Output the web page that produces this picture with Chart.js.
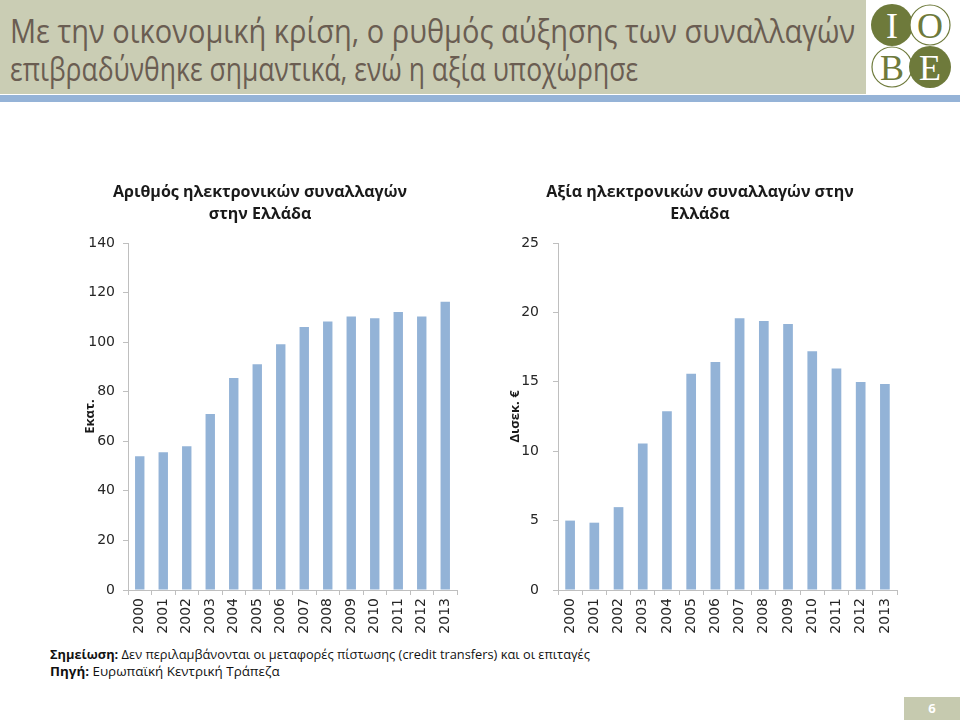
<!DOCTYPE html>
<html>
<head>
<meta charset="utf-8">
<script src="https://cdn.jsdelivr.net/npm/chart.js@4.4.1/dist/chart.umd.min.js"></script>
<style>
  body { margin: 0; width: 960px; height: 720px; position: relative; background: #fff; overflow: hidden; font-family: 'Open Sans', sans-serif; }
  .header { position: absolute; left: 0; top: 0; width: 866px; height: 94px; background: #cacdb4; }
  .band { position: absolute; left: 0; top: 95px; width: 960px; height: 7px; background: #95b3d7; }
  .htext { position: absolute; left: 10px; color: #6a5d52; font-size: 32px; white-space: nowrap; transform-origin: left center; display: inline-block; }
  .note { position: absolute; left: 50px; font-size: 12px; color: #111; white-space: nowrap; transform-origin: left center; display: inline-block; }
  .page { position: absolute; left: 904px; top: 697px; width: 56px; height: 23px; background: #c6caaf; color: #fff; font-weight: bold; font-size: 13px; text-align: center; line-height: 23px; }
  canvas { position: absolute; }
</style>
</head>
<body>
<div class="header"></div>
<div class="band"></div>
<div class="htext" id="h1" style="top:9px">Με την οικονομική κρίση, ο ρυθμός αύξησης των συναλλαγών</div>
<div class="htext" id="h2" style="top:47px">επιβραδύνθηκε σημαντικά, ενώ η αξία υποχώρησε</div>

<svg style="position:absolute;left:866px;top:0" width="94" height="94">
  <g font-family="Liberation Serif, DejaVu Serif, serif" font-size="36" text-anchor="middle">
    <circle cx="26" cy="25" r="21" fill="#6e7a3b"/>
    <text x="26" y="38" fill="#fff">I</text>
    <circle cx="64" cy="25" r="20" fill="#fff" stroke="#6e7a3b" stroke-width="1.2"/>
    <text x="64" y="38" fill="#6e7a3b">O</text>
    <circle cx="26" cy="67" r="20" fill="#fff" stroke="#6e7a3b" stroke-width="1.2"/>
    <text x="26" y="80" fill="#6e7a3b">B</text>
    <circle cx="64" cy="67" r="21" fill="#6e7a3b"/>
    <text x="64" y="80" fill="#fff">E</text>
  </g>
</svg>

<canvas id="countChart" width="420" height="475" style="left:50px;top:170px"></canvas>
<canvas id="valueChart" width="420" height="475" style="left:490px;top:170px"></canvas>

<div class="note" id="n1" style="top:646px"><b>Σημείωση:</b> Δεν περιλαμβάνονται οι μεταφορές πίστωσης (credit transfers) και οι επιταγές</div>
<div class="note" id="n2" style="top:663px"><b>Πηγή:</b> Ευρωπαϊκή Κεντρική Τράπεζα</div>
<div class="page">6</div>

<script>
'use strict';
const years = ['2000', '2001', '2002', '2003', '2004', '2005', '2006', '2007', '2008', '2009', '2010', '2011', '2012', '2013'];
// number of transactions, millions
const countValues = [54, 55.6, 58, 71, 85.5, 91.1, 99.2, 106.1, 108.3, 110.3, 109.6, 112.2, 110.3, 116.3];
// value of transactions, billion euro
const valueValues = [5.0, 4.85, 5.97, 10.56, 12.88, 15.58, 16.42, 19.57, 19.38, 19.17, 17.2, 15.96, 14.98, 14.84];
const countTicks = [0, 20, 40, 60, 80, 100, 120, 140];
const valueTicks = [0, 5, 10, 15, 20, 25];

const barColor = '#93b3d7';
const axisColor = '#bfbfbf';
const tickFont = { family: 'DejaVu Sans', size: 14 };

const fitText = function(id, width){
  const el = document.getElementById(id);
  el.style.transform = `scaleX(${width / el.scrollWidth})`;
};
fitText('h1', 845);
fitText('h2', 628);
fitText('n1', 540);
fitText('n2', 230);

const makeChart = function(canvasId, title, yTitle, values, ticks, opts){
  return new Chart(document.getElementById(canvasId), {
    type: 'bar',
    data: {
      labels: years,
      datasets: [{
        data: values,
        backgroundColor: barColor,
        barPercentage: 1,
        categoryPercentage: 0.4
      }]
    },
    options: {
      responsive: false,
      animation: false,
      layout: { padding: { left: 13, right: 13, bottom: 5 } },
      plugins: {
        legend: { display: false },
        tooltip: { enabled: false },
        title: {
          display: true,
          text: title,
          color: '#1a1a1a',
          font: { family: 'Open Sans', size: 16, weight: 'bold', lineHeight: 22 / 16 },
          padding: { top: 11, bottom: 18 }
        }
      },
      scales: {
        x: {
          grid: { display: true, drawOnChartArea: false, drawTicks: true, tickLength: 5, color: axisColor, offset: true },
          border: { color: axisColor },
          ticks: { color: '#262626', font: tickFont, minRotation: 90, maxRotation: 90, padding: 3 },
          afterFit: function(scale){ scale.height = 50; }
        },
        y: {
          min: ticks[0],
          max: ticks[ticks.length - 1],
          afterBuildTicks: function(scale){ scale.ticks = ticks.map(v => ({ value: v })); },
          grid: { display: true, drawOnChartArea: false, drawTicks: true, tickLength: 5, color: axisColor },
          border: { color: axisColor },
          ticks: { color: '#262626', font: tickFont, padding: opts.tickPad },
          title: {
            display: true,
            text: yTitle,
            color: '#1a1a1a',
            font: { family: 'Open Sans', size: 13, weight: 'bold' },
            padding: { top: opts.titlePad, bottom: 0 }
          },
          afterFit: function(scale){ scale.width = opts.axisWidth; }
        }
      }
    }
  });
};

makeChart('countChart', ['Αριθμός ηλεκτρονικών συναλλαγών', 'στην Ελλάδα'], 'Εκατ.', countValues, countTicks,
  { axisWidth: 65, tickPad: 8, titlePad: 19 });
makeChart('valueChart', ['Αξία ηλεκτρονικών συναλλαγών στην', 'Ελλάδα'], 'Δισεκ. €', valueValues, valueTicks,
  { axisWidth: 55, tickPad: 14, titlePad: 4 });
</script>
</body>
</html>
